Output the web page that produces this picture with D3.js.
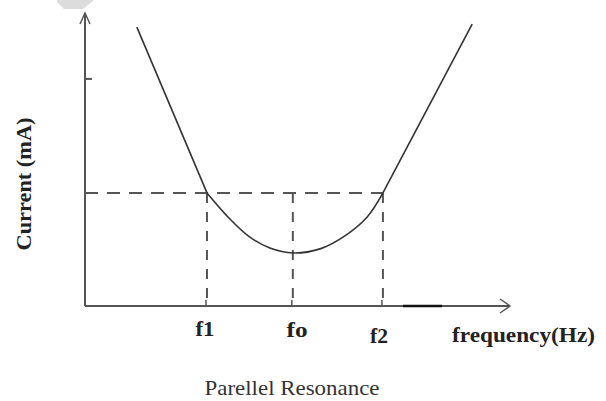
<!DOCTYPE html>
<html>
<head>
<meta charset="utf-8">
<script src="https://cdn.jsdelivr.net/npm/d3@7/dist/d3.min.js"></script>
<style>
  html, body { margin: 0; padding: 0; background: #fff; }
  svg { display: block; }
</style>
</head>
<body>
<svg id="chart" width="606" height="401"></svg>
<script>
// Frequency (x) and current (y) in relative units, 0..100 on each axis.
const freqMarks = ["f1", "fo", "f2"];
const freqValues = [28.7, 48.9, 70.1];
const bandCurrent = 38.6;          // current level at the half-power points
const yTickValue = 77.5;

// Straight flanks outside the band
const leftFlankX = [12.2, 28.7];
const leftFlankY = [95.2, 38.6];
const rightFlankX = [70.1, 91.1];
const rightFlankY = [38.6, 96.2];

// Rounded dip between f1 and f2
const dipX = [28.7, 34.1, 38.8, 43.5, 48.9, 55.3, 60.7, 66.4, 70.1];
const dipY = [38.6, 29.7, 23.5, 19.8, 18.1, 19.5, 23.5, 30.4, 38.6];

const svg = d3.select("#chart");

const x = d3.scaleLinear().domain([0, 100]).range([85, 510]);
const y = d3.scaleLinear().domain([0, 100]).range([306, 13]);

const axisColor = "#555";
const curveColor = "#333";

// small grey badge at the top-left corner
svg.append("polygon")
  .attr("points", "57,0 93,0 93,1 83,9 64,9 57,2")
  .attr("fill", "#dcdcdc");

// dashed guides
svg.append("line")
  .attr("x1", x(0)).attr("x2", x(freqValues[2]))
  .attr("y1", y(bandCurrent)).attr("y2", y(bandCurrent))
  .attr("stroke", axisColor).attr("stroke-width", 2)
  .attr("stroke-dasharray", "13,9");

freqValues.forEach(f => {
  svg.append("line")
    .attr("x1", x(f)).attr("x2", x(f))
    .attr("y1", y(bandCurrent)).attr("y2", y(0))
    .attr("stroke", axisColor).attr("stroke-width", 2)
    .attr("stroke-dasharray", "10,9");
});

// axes
const g = svg.append("g").attr("stroke", axisColor).attr("stroke-width", 2).attr("fill", "none");
g.append("line").attr("x1", x(0)).attr("y1", y(0)).attr("x2", x(0)).attr("y2", y(100));
g.append("polyline").attr("stroke-width", 1.5)
  .attr("points", `${x(0)-5},${y(100)+11} ${x(0)},${y(100)} ${x(0)+5},${y(100)+11}`);
g.append("line").attr("x1", x(0)).attr("y1", y(yTickValue)).attr("x2", x(0) + 7).attr("y2", y(yTickValue));

g.append("line").attr("x1", x(0)).attr("y1", y(0)).attr("x2", x(100)).attr("y2", y(0));
g.append("polyline").attr("stroke-width", 1.5)
  .attr("points", `${x(100)-10},${y(0)-7} ${x(100)},${y(0)} ${x(100)-10},${y(0)+7}`);
// heavier stretch on the frequency axis
svg.append("line")
  .attr("x1", 403).attr("x2", 442).attr("y1", y(0)).attr("y2", y(0))
  .attr("stroke", "#111").attr("stroke-width", 2.5);

// small ticks at f1, fo, f2
freqValues.forEach(f => {
  g.append("line").attr("stroke-width", 1.5)
    .attr("x1", x(f) - 1).attr("x2", x(f) - 1)
    .attr("y1", y(0) - 6).attr("y2", y(0));
});

// response curve
const line = d3.line().x(d => x(d[0])).y(d => y(d[1]));
const pairs = (xs, ys) => xs.map((v, i) => [v, ys[i]]);

svg.append("path")
  .datum(pairs(leftFlankX, leftFlankY))
  .attr("d", line)
  .attr("fill", "none").attr("stroke", curveColor).attr("stroke-width", 1.6);
svg.append("path")
  .datum(pairs(rightFlankX, rightFlankY))
  .attr("d", line)
  .attr("fill", "none").attr("stroke", curveColor).attr("stroke-width", 1.6);
svg.append("path")
  .datum(pairs(dipX, dipY))
  .attr("d", line.curve(d3.curveCatmullRom))
  .attr("fill", "none").attr("stroke", curveColor).attr("stroke-width", 1.6);

// labels
const labelFont = "'Liberation Serif', 'DejaVu Serif', serif";
const labelX = [205, 297, 379];
const labelY = [336, 337, 343];
const labelW = [19, 21, 18];
freqMarks.forEach((m, i) => {
  svg.append("text")
    .attr("x", labelX[i]).attr("y", labelY[i])
    .attr("text-anchor", "middle")
    .attr("font-family", labelFont).attr("font-weight", "bold").attr("font-size", 20)
    .attr("textLength", labelW[i]).attr("lengthAdjust", "spacingAndGlyphs")
    .attr("fill", "#222")
    .text(m);
});

svg.append("text")
  .attr("x", 452).attr("y", 342)
  .attr("font-family", labelFont).attr("font-weight", "bold").attr("font-size", 20)
  .attr("textLength", 143).attr("lengthAdjust", "spacingAndGlyphs")
  .attr("fill", "#222")
  .text("frequency(Hz)");

svg.append("text")
  .attr("transform", "translate(31,184) rotate(-90)")
  .attr("text-anchor", "middle")
  .attr("font-family", labelFont).attr("font-weight", "bold").attr("font-size", 20)
  .attr("textLength", 133).attr("lengthAdjust", "spacingAndGlyphs")
  .attr("fill", "#222")
  .text("Current (mA)");

svg.append("text")
  .attr("x", 292).attr("y", 395)
  .attr("text-anchor", "middle")
  .attr("font-family", labelFont).attr("font-size", 21)
  .attr("textLength", 175).attr("lengthAdjust", "spacingAndGlyphs")
  .attr("fill", "#333")
  .text("Parellel Resonance");
</script>
</body>
</html>
